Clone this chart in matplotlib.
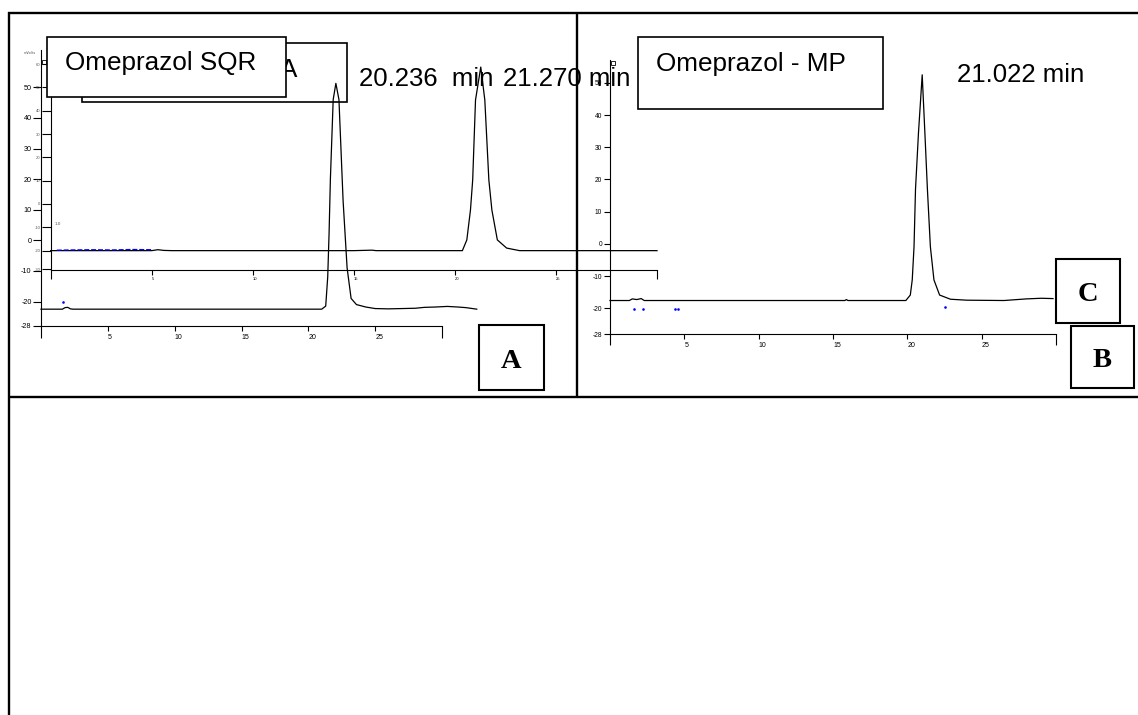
import matplotlib
matplotlib.use("Agg")
import matplotlib.pyplot as plt
from matplotlib.patches import Rectangle
from matplotlib.lines import Line2D

# ---------------- data ----------------
# Panel A, lower trace: Omeprazol SQR (time in min, signal in mV)
a_time = [0.0, 1.6, 1.8, 2.0, 2.2, 2.4, 6.0, 12.0, 18.0, 21.0, 21.3, 21.45, 21.55,
          21.65, 21.86, 22.06, 22.29, 22.6, 22.9, 23.2, 23.6, 24.3, 25.0, 26.0,
          27.0, 28.0, 28.7, 29.5, 30.4, 31.2, 31.8, 32.6]
a_mv = [-22.5, -22.5, -22.0, -21.9, -22.4, -22.5, -22.5, -22.5, -22.5, -22.5, -21.5,
        -12.0, 2.0, 20.0, 46.0, 51.3, 46.0, 13.0, -9.0, -19.0, -21.0, -21.8, -22.3,
        -22.4, -22.3, -22.2, -21.9, -21.8, -21.6, -21.8, -22.0, -22.5]

# Panel A, upper (overlaid) trace
c_time = [0.0, 0.5, 5.0, 5.3, 5.6, 6.0, 10.0, 15.0, 15.9, 16.1, 20.0, 20.37, 20.59,
          20.77, 20.88, 21.02, 21.28, 21.48, 21.68, 21.83, 22.1, 22.56, 23.2, 25.0,
          28.0, 30.0]
c_mv = [-20.0, -20.0, -20.0, -19.6, -19.9, -20.0, -20.0, -20.0, -19.8, -20.0, -20.0,
        -20.0, -15.4, -2.6, 10.3, 44.6, 58.7, 44.6, 10.3, -2.6, -15.4, -18.9, -20.0,
        -20.0, -20.0, -20.0]
c_blue_time = [0.3, 1.0, 2.0, 3.0, 4.0, 5.0]
c_blue_mv = [-19.8, -19.7, -19.6, -19.7, -19.5, -19.6]

# Panel B: Omeprazol - MP
b_time = [0.0, 1.3, 1.5, 1.8, 2.1, 2.3, 8.0, 15.8, 15.9, 16.0, 19.9, 20.2, 20.33,
          20.45, 20.55, 20.75, 21.0, 21.18, 21.35, 21.55, 21.79, 22.17, 22.9, 24.0,
          26.5, 28.0, 29.0, 29.8]
b_mv = [-17.6, -17.6, -17.1, -17.3, -17.0, -17.6, -17.6, -17.6, -17.3, -17.6, -17.6,
        -15.9, -11.2, -0.9, 17.0, 34.5, 52.5, 34.5, 17.0, -0.9, -11.2, -15.9, -17.2,
        -17.5, -17.6, -17.1, -16.9, -17.0]
b_blue_time = [1.6, 2.2, 4.4, 4.6, 22.5]
b_blue_mv = [-20.3, -20.3, -20.3, -20.3, -19.5]
a_blue_time = [1.65]
a_blue_mv = [-20.2]

x_ticks = [5, 10, 15, 20, 25]
x_ends = [0, 30]
a_yticks = [-28, -20, -10, 0, 10, 20, 30, 40, 50]
c_yticks = [-28, -20, -10, 0, 10, 20, 30, 40, 50, 60]
c_yticklabels = ["-30", "-20", "-10", "0", "10", "20", "30", "40", "50", "60"]
b_yticks = [-28, -20, -10, 0, 10, 20, 30, 40, 50]

title_sqr = "Omeprazol SQR"
title_mp = "Omeprazol - MP"
rt_labels = ["20.236  min", "21.270 min", "21.022 min"]
panel_letters = ["A", "C", "B"]

# ---------------- figure ----------------
W, H = 1138, 715
fig = plt.figure(figsize=(W / 100, H / 100), dpi=100)
fig.patch.set_facecolor("white")
PT = 72 / 100  # points per pixel


def rect(x0, yt, x1, yb):
    return [x0 / W, 1 - yb / H, (x1 - x0) / W, (yb - yt) / H]


def fx(x):
    return x / W


def fy(y):
    return 1 - y / H


def fig_line(x0, y0, x1, y1, lw=1.7, color="black", z=6):
    fig.add_artist(Line2D([fx(x0), fx(x1)], [fy(y0), fy(y1)], lw=lw, color=color,
                          transform=fig.transFigure, zorder=z, solid_capstyle="butt"))


def fig_box(x0, yt, x1, yb, lw=1.2, fill=True, z=4):
    fig.add_artist(Rectangle((fx(x0), fy(yb)), fx(x1) - fx(x0), fy(yt) - fy(yb),
                             transform=fig.transFigure, lw=lw, edgecolor="black",
                             facecolor="white" if fill else "none", fill=fill, zorder=z))


def fig_text(x, y, s, size, z=5, ha="left", **kw):
    fig.text(fx(x), fy(y), s, fontsize=size, ha=ha, va="baseline", zorder=z, **kw)


FONT = "Liberation Sans"
SERIF = "Liberation Serif"


def style_axes(ax, ylim, yticks, yticklabels, ylen, ysize, xlen, xend_len, xsize,
               xpad, ycolor="black"):
    ax.set_xlim(0, 30)
    ax.set_ylim(*ylim)
    ax.patch.set_visible(False)
    for s in ("top", "right"):
        ax.spines[s].set_visible(False)
    for s in ("left", "bottom"):
        ax.spines[s].set_linewidth(0.8)
    ax.set_xticks(x_ticks)
    ax.set_xticklabels([str(t) for t in x_ticks], fontsize=xsize, family=FONT)
    ax.set_xticks(x_ends, minor=True)
    ax.tick_params(axis="x", which="major", direction="out", length=xlen, width=0.8,
                   pad=xpad)
    ax.tick_params(axis="x", which="minor", direction="out", length=xend_len, width=0.8)
    for lbl in ax.get_xticklabels():
        lbl.set_ha("left")
    ax.set_yticks(yticks)
    ax.set_yticklabels(yticklabels, fontsize=ysize, family=FONT, color=ycolor)
    ax.tick_params(axis="y", which="major", direction="out", length=ylen, width=0.8,
                   pad=1)


# Left panel, lower axes (trace A)
ax1 = fig.add_axes(rect(41, 50, 442, 326))
style_axes(ax1, (-28, 62.2), a_yticks, [str(t) for t in a_yticks], 8 * PT, 5.2,
           5 * PT, 12 * PT, 5.0, 2.2)
ax1.plot(a_time, a_mv, color="black", lw=0.9, clip_on=False)
ax1.plot(a_blue_time, a_blue_mv, "s", ms=0.8, color="blue", clip_on=False)

# Left panel, overlaid upper axes
ax2 = fig.add_axes(rect(50.7, 61, 657, 270))
style_axes(ax2, (-28.3, 61.3), c_yticks, c_yticklabels, 9 * PT, 3.0,
           5 * PT, 9 * PT, 3.0, 1.5, ycolor="#555555")
ax2.plot(c_time, c_mv, color="black", lw=0.9, clip_on=False)
ax2.plot(c_blue_time, c_blue_mv, color="blue", lw=0.9, ls=(0, (4, 1.5)),
         clip_on=False, zorder=3)

# Right panel axes (trace B)
ax3 = fig.add_axes(rect(610, 60, 1056, 334))
style_axes(ax3, (-28, 57.1), b_yticks, [str(t) for t in b_yticks], 6.5 * PT, 4.8,
           5 * PT, 11 * PT, 5.0, 2.2)
ax3.plot(b_time, b_mv, color="black", lw=0.9, clip_on=False)
ax3.plot(b_blue_time, b_blue_mv, "s", ms=0.8, color="blue", clip_on=False)

# tiny instrument annotations
fig_text(24, 54, "mVolts", 2.5, z=3, color="#555555")
fig_text(55, 225, "1.0", 3, z=3, color="#555555")
fig_box(42, 60, 45.5, 64, lw=0.6, fill=False, z=3)
fig_box(611, 61, 614.5, 65, lw=0.6, fill=False, z=3)

# ---------------- table borders ----------------
fig_line(8, 13, W, 13)
fig_line(8.5, 12.2, 8.5, H)
fig_line(8, 397, W, 397)
fig_line(576.5, 13, 576.5, 397)

# ---------------- labels / boxes ----------------
# back box with partially hidden "A"
fig_box(81.7, 42.7, 346.7, 101.7, lw=1.2, fill=False, z=3.5)
fig_text(280, 77, "A", 18.8, z=3, family=FONT)
# front box
fig_box(46.7, 37, 286, 97, lw=1.2, fill=True, z=4)
fig_text(65, 70, title_sqr, 18.8, z=5, family=FONT)

fig_text(359, 86, rt_labels[0], 18.5, family=FONT)
fig_text(503, 86, rt_labels[1], 18.5, family=FONT)

fig_box(638, 37, 883, 109, lw=1.2, fill=True, z=4)
fig_text(656, 71, title_mp, 18.8, z=5, family=FONT)
fig_text(957, 82, rt_labels[2], 18.5, family=FONT)

# panel letter boxes
fig_box(479, 325, 544, 390, lw=1.5)
fig_text(511.5, 368, panel_letters[0], 20.5, ha="center", family=SERIF, weight="bold")
fig_box(1055.5, 259, 1119.6, 323, lw=1.5)
fig_text(1087.5, 300.7, panel_letters[1], 20.5, ha="center", family=SERIF, weight="bold")
fig_box(1070.7, 325.7, 1134, 388, lw=1.5)
fig_text(1102, 366.7, panel_letters[2], 20.5, ha="center", family=SERIF, weight="bold")

fig.savefig("out.png", dpi=100, facecolor="white")
